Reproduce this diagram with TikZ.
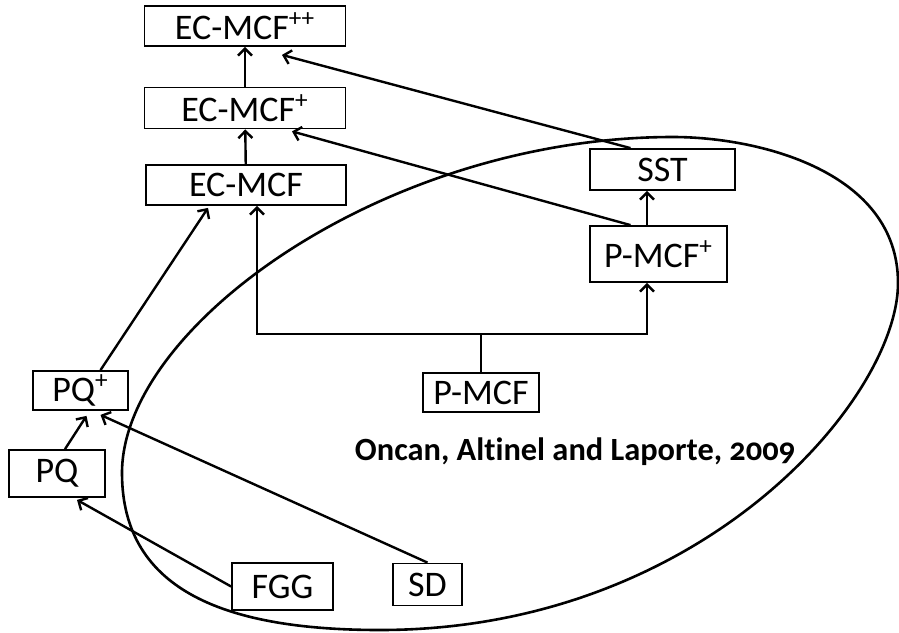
\documentclass[tikz,border=0pt]{standalone}
\usepackage{fontspec}
\setmainfont{Carlito}[RawFeature=-liga]
\usetikzlibrary{arrows.meta}
\begin{document}
\begin{tikzpicture}[x=0.5pt,y=-0.5pt,
    box/.style={draw,line width=0.9pt,inner sep=0pt,font=\fontsize{18}{20}\selectfont},
    arr/.style={-{Straight Barb[length=3.5pt,width=7pt]},line width=1.2pt}]
    \useasboundingbox (0,0) rectangle (899,632);
%    group outline
    \draw[line width=1.3pt] (122,473) .. controls (122,326) and (386,137) .. (673,137)
        .. controls (758,137) and (898,171) .. (898,283)
        .. controls (898,398) and (702,630) .. (380,630)
        .. controls (230,630) and (122,593) .. (122,473) -- cycle;
    \node at (575,452) {\fontsize{16.2}{18}\selectfont\bfseries Oncan, Altinel and Laporte, {\addfontfeatures{Numbers=OldStyle}2009}};

    \node[box,minimum width=100.5pt,minimum height=20pt](ecpp)  at (245,26)    {EC-MCF\textsuperscript{++}};
    \node[box,minimum width=100.5pt,minimum height=20.5pt](ecp) at (245,108)   {EC-MCF\textsuperscript{+}};
    \node[box,minimum width=100pt,minimum height=20pt](ec)      at (246,185)   {EC-MCF};
    \node[box,minimum width=72.5pt,minimum height=20.5pt](sst)  at (662.5,169.5) {SST};
    \node[box,minimum width=68.5pt,minimum height=28pt](pmcfp)  at (658.5,254) {P-MCF\textsuperscript{+}};
    \node[box,minimum width=58pt,minimum height=19.5pt](pmcf)   at (481,392.5) {P-MCF};
    \node[box,minimum width=47.5pt,minimum height=19.5pt](pqp)  at (80.5,390.5) {PQ\textsuperscript{+}};
    \node[box,minimum width=48pt,minimum height=23.5pt](pq)     at (57,473.5)  {PQ};
    \node[box,minimum width=50.5pt,minimum height=23.5pt](fgg)  at (282.5,586.5) {FGG};
    \node[box,minimum width=34.5pt,minimum height=21pt](sd)     at (427.5,584.5) {SD};
    \coordinate (split) at (481,334);

    \draw[arr] (ec)  to (ecp);
    \draw[arr] (ecp) to (ecpp);
    \draw[arr] ([xshift=-16pt]sst.north)    to ([xshift=18.5pt,yshift=-4pt]ecpp.south);
    \draw[arr] ([xshift=-14pt]pmcfp.north)  to ([xshift=23.5pt,yshift=-1pt]ecp.south);
    \draw[arr] ([xshift=-5.75pt]pmcfp.north) to ([xshift=-5.75pt]pmcfp.north |- sst.south);
    \draw[line width=1.2pt] (pmcf) -- (split);
    \draw[arr] (split) -| ([xshift=5.5pt]ec.south);
    \draw[arr] (split) -| ([xshift=-5.75pt]pmcfp.south);
    \draw[arr] ([xshift=10pt]pqp.north)     to ([xshift=-19pt,yshift=-1pt]ec.south);
    \draw[arr] ([xshift=4pt]pq.north)       to ([xshift=3pt,yshift=-2.5pt]pqp.south);
    \draw[arr] (sd.north)                   to ([xshift=10pt,yshift=-2pt]pqp.south);
    \draw[arr] (fgg.west)                   to ([xshift=10pt,yshift=-1pt]pq.south);
\end{tikzpicture}
\end{document}
